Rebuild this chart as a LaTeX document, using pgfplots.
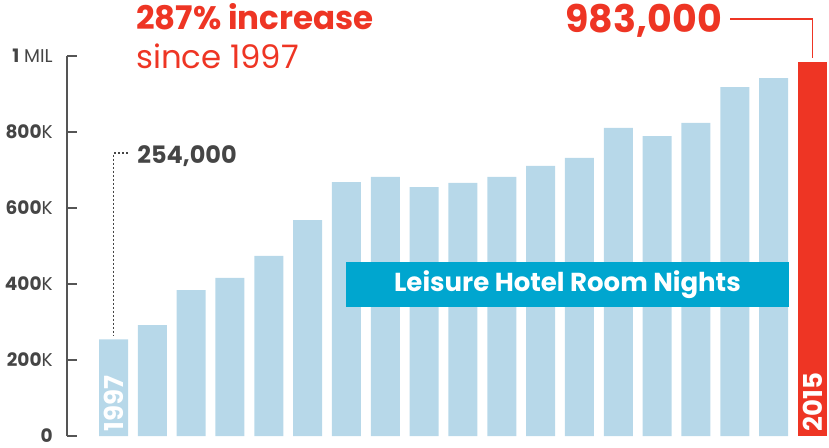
\documentclass[border=0pt]{standalone}
\usepackage{pgfplots}
\pgfplotsset{compat=1.18}
\usepackage{fontspec}
\setmainfont{Poppins}
\definecolor{barblue}{HTML}{B7D8E9}
\definecolor{hired}{HTML}{EE3524}
\definecolor{banner}{HTML}{00A6CF}
\definecolor{txtgray}{HTML}{454545}
\definecolor{axisgray}{HTML}{555555}
\begin{document}
\begin{tikzpicture}
\begin{axis}[
  scale only axis,
  width=762pt, height=380pt,
  xmin=-1.2, xmax=18.424,
  ymin=0, ymax=1000,
  enlargelimits=false,
  clip=false,
  axis x line=none,
  axis y line=left,
  axis line style={draw=axisgray, line width=2pt, -},
  ytick={0,200,400,600,800,1000},
  yticklabels={\textbf{0},\textbf{200}K,\textbf{400}K,\textbf{600}K,\textbf{800}K,\textbf{1} MIL},
  yticklabel style={font=\fontsize{18.5}{18.5}\selectfont, text=txtgray, inner sep=1pt, xshift=-13pt},
  tick align=inside,
  major tick length=10pt,
  tick style={draw=axisgray, line width=2pt},
  xtick=\empty,
  ybar, bar width=29pt,
]
\addplot[fill=barblue, draw=none, bar shift=0pt] coordinates {
  (0,254) (1,292) (2,384) (3,416) (4,474) (5,568) (6,668) (7,682) (8,655)
  (9,666) (10,682) (11,711) (12,732) (13,811) (14,789) (15,824) (16,918) (17,942)
};
\addplot[fill=hired, draw=none, bar shift=0pt] coordinates {(18,983)};

% banner
\fill[banner] (axis cs:5.988,457.9) rectangle (axis cs:17.396,339.5);
\node[text=white, font=\bfseries\fontsize{26}{26}\selectfont] at (axis cs:11.69,397) {Leisure Hotel Room Nights};

% year labels
\node[rotate=90, anchor=west, text=white, font=\bfseries\fontsize{26}{26}\selectfont, inner sep=0pt] at (axis cs:0,12) {1997};
\node[rotate=90, anchor=west, text=white, font=\bfseries\fontsize{26}{26}\selectfont, inner sep=0pt] at (axis cs:18,12) {2015};

% headline
\node[anchor=base west, inner sep=0pt, text=hired, font=\bfseries\fontsize{32.5}{32.5}\selectfont] at (axis cs:0.579,1071) {287\% increase};
\node[anchor=base west, inner sep=0pt, text=hired, font=\fontsize{32.4}{32.4}\selectfont] at (axis cs:0.579,968) {since 1997};

% 983,000 callout
\node[anchor=base east, inner sep=0pt, text=hired, font=\bfseries\fontsize{38}{38}\selectfont] at (axis cs:15.67,1063) {983,000};
\draw[hired, line width=1.6pt] (axis cs:15.88,1097) -- (axis cs:18,1097) -- (axis cs:18,996);

% 254,000 callout
\node[anchor=base west, inner sep=0pt, text=txtgray, font=\bfseries\fontsize{24}{24}\selectfont] at (axis cs:0.608,718) {254,000};
\draw[txtgray, line width=1.5pt, dash pattern=on 2pt off 2pt] (axis cs:0.373,744.7) -- (axis cs:0,744.7) -- (axis cs:0,262);

\coordinate (bl) at (axis cs:-2.923,-28.95);
\coordinate (tr) at (axis cs:18.426,1147.4);
\end{axis}
\pgfresetboundingbox
\useasboundingbox (bl) rectangle (tr);
\end{tikzpicture}
\end{document}
